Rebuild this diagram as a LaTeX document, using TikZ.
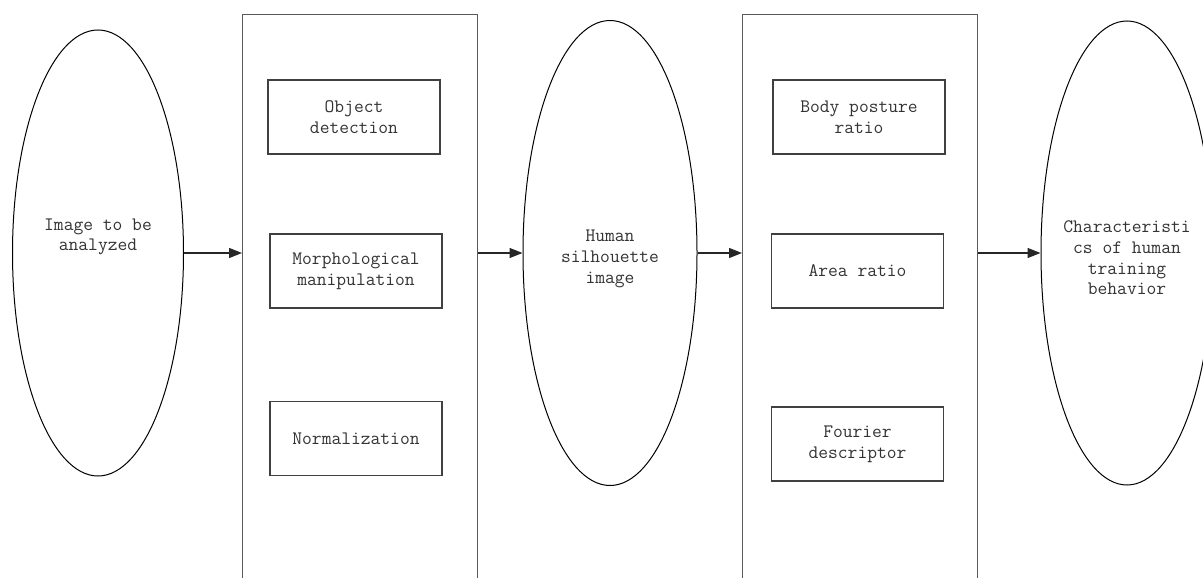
\documentclass[tikz,border=0pt]{standalone}
\usepackage{fontspec}
\usetikzlibrary{shapes.geometric,arrows.meta}
\tikzset{
  ell/.style={draw=black, line width=1pt, ellipse, inner sep=0pt, minimum width=172pt, minimum height=446pt},
  frame/.style={draw=black!65, line width=1.3pt, rectangle, inner sep=0pt, minimum width=235pt, minimum height=620pt, anchor=north west},
  subbox/.style={draw=black!75, line width=1.3pt, rectangle, inner sep=0pt, minimum width=172pt, minimum height=74pt, font=\ttfamily\fontsize{19}{20.7}\selectfont, text=black!80, align=center},
  txt/.style={font=\ttfamily\fontsize{19}{20.7}\selectfont, text=black!80, align=center, inner sep=0pt},
  conn/.style={draw=black!85, line width=1.1pt, -{Triangle[length=13pt,width=10pt]}}
}
\begin{document}
\begin{tikzpicture}[x=1pt,y=-1pt]
\clip (0,0) rectangle (1203,578);
\fill[white] (0,0) rectangle (1203,578);
% ellipses
\node[ell, minimum width=171pt, minimum height=446pt] (e1) at (98,253) {};
\node[txt] (t1) at (98,237) {Image to be\\analyzed};
\node[ell, minimum width=174pt, minimum height=465pt] (e2) at (610,253) {};
\node[txt] (t2) at (610,259) {Human\\silhouette\\image};
\node[ell, minimum width=172pt, minimum height=464pt] (e3) at (1127,253) {};
\node[txt] (t3) at (1127,258) {Characteristi\\cs of human\\training\\behavior};
% frames
\node[frame] (r1) at (242,14) {};
\node[frame] (r2) at (742,14) {};
% sub boxes
\node[subbox] (b1) at (354,117) {Object\\detection};
\node[subbox] (b2) at (356,271) {Morphological\\manipulation};
\node[subbox] (b3) at (356,438.5) {Normalization};
\node[subbox] (c1) at (859,117) {Body posture\\ratio};
\node[subbox] (c2) at (857.5,271) {Area ratio};
\node[subbox] (c3) at (857.5,444) {Fourier\\descriptor};
% connectors
\coordinate (y0) at (0,253);
\draw[conn] (e1.east) -- (e1.east -| r1.west);
\draw[conn] (y0 -| r1.east) -- (e2.west);
\draw[conn] (e2.east) -- (e2.east -| r2.west);
\draw[conn] (y0 -| r2.east) -- (e3.west);
\end{tikzpicture}
\end{document}
